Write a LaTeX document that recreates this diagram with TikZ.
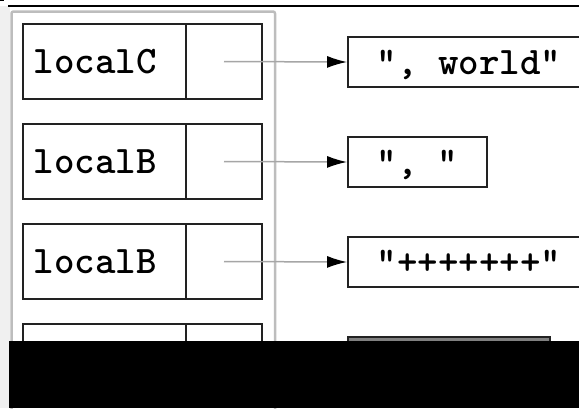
\documentclass[tikz,border=0pt]{standalone}
\usepackage{fontspec}
\usetikzlibrary{arrows.meta}

\definecolor{boxline}{HTML}{222222}
\definecolor{panelline}{HTML}{BDBDBD}
\definecolor{stripfill}{HTML}{F0F0F0}
\definecolor{ptrline}{HTML}{A6A6A6}
\definecolor{nullfill}{HTML}{808080}

\tikzset{
  codefont/.style={font=\ttfamily\bfseries\fontsize{39}{39}\selectfont},
  cell/.style={draw=boxline, line width=1.8pt, fill=white, rectangle,
    inner sep=0pt, minimum height=75pt, text height=24pt, text depth=0pt},
  namecell/.style={cell, codefont, minimum width=163pt,
    text width=141pt, align=left, inner xsep=11pt},
  ptrcell/.style={cell, minimum width=76pt},
  strbox/.style={draw=boxline, line width=1.8pt, fill=white, rectangle,
    inner sep=0pt, minimum height=50pt, text height=24pt, text depth=0pt, codefont},
  ptr/.style={draw=ptrline, line width=1.5pt,
    -{Latex[length=20pt,width=12pt,color=black]}},
  panel/.style={draw=panelline, line width=2.5pt, fill=white, rounded corners=2pt}
}

\begin{document}
\begin{tikzpicture}[x=1pt, y=-1pt]
  \useasboundingbox (0,0) rectangle (579,408);
  \clip (0,0) rectangle (579,408);

  % window chrome: left strip, top rule, stack frame panel
  \fill[stripfill] (0,6) rectangle (9.5,408);
  \draw[line width=1pt] (0,0.5) -- (3.5,0.5);
  \draw[line width=1.5pt] (8,6) -- (579,6);
  \draw[panel] (11.5,11.5) rectangle (275,420);

  % stack variables: name cell + pointer cell
  \node[namecell] (n1) at (104.5,61.5)  {localC};
  \node[ptrcell]  (p1) at (224,61.5)    {};
  \node[namecell] (n2) at (104.5,161.5) {localB};
  \node[ptrcell]  (p2) at (224,161.5)   {};
  \node[namecell] (n3) at (104.5,261.5) {localB};
  \node[ptrcell]  (p3) at (224,261.5)   {};
  \node[namecell] (n4) at (104.5,361.5) {};
  \node[ptrcell]  (p4) at (224,361.5)   {};

  % heap strings
  \node[strbox, minimum width=242pt] (s1) at (469,62)    {", world"};
  \node[strbox, minimum width=139pt] (s2) at (417.5,162) {",\ "};
  \node[strbox, minimum width=242pt] (s3) at (469,262)   {"+++++++"};
  \node[strbox, minimum width=202pt, fill=nullfill] (s4) at (449,362) {};

  % references
  \draw[ptr] (p1.center) -- (s1.west);
  \draw[ptr] (p2.center) -- (s2.west);
  \draw[ptr] (p3.center) -- (s3.west);

  % lower band
  \fill[black] (9,341) rectangle (579,408);
\end{tikzpicture}
\end{document}
